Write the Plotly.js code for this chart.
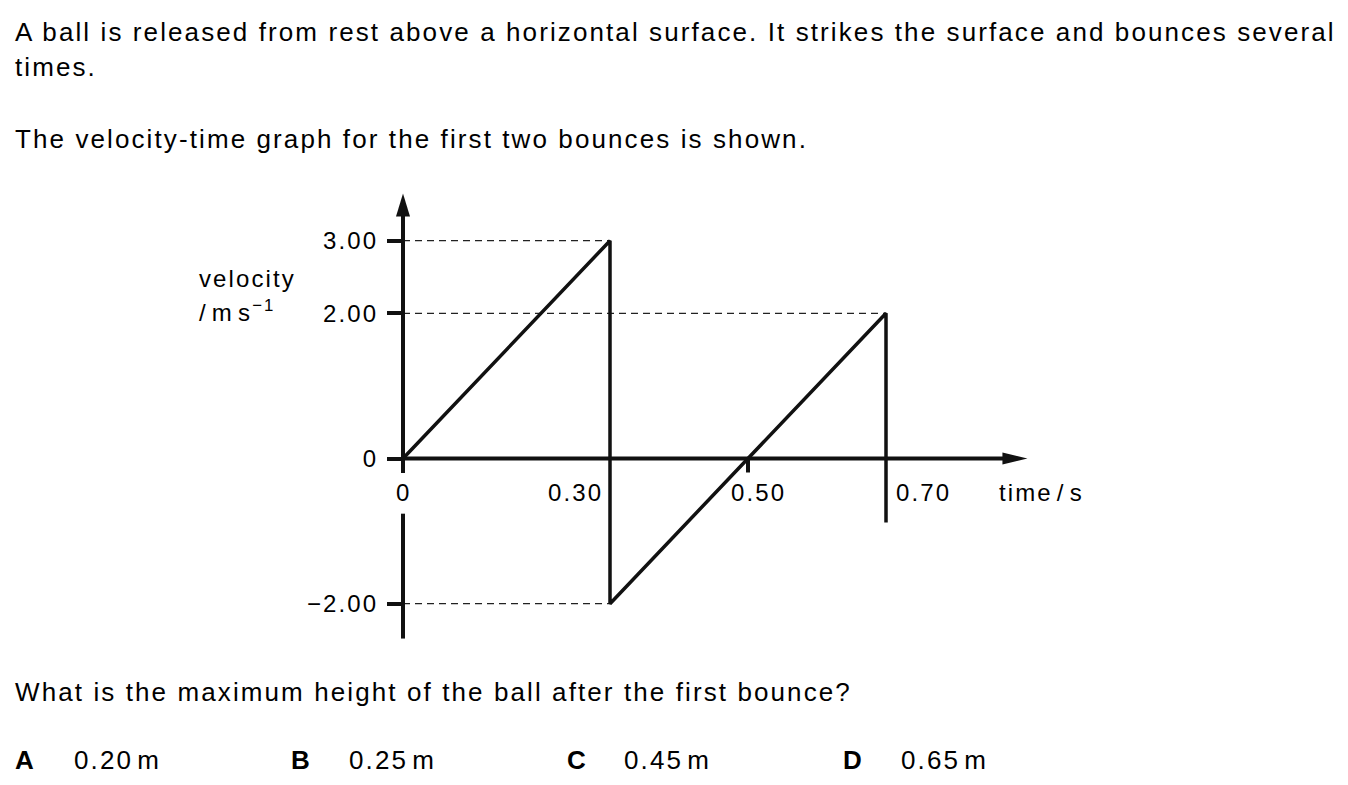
<!DOCTYPE html>
<html><head><meta charset="utf-8">
<script src="https://cdn.plot.ly/plotly-3.0.1.min.js"></script>
<style>
html,body{margin:0;padding:0;background:#fff;}
#chart{width:1348px;height:785px;}
text{letter-spacing:2.1px;}
</style></head><body><div id="chart"></div>
<script>
// ---- data ----
const timeS = [0, 0.30, 0.30, 0.70, 0.70];
const velocity = [0, 3.00, -2.00, 2.00, -0.88];
const yTickVals = [-2, 0, 2, 3];
const yTickText = ['\u22122.00', '0', '2.00', '3.00'];
const xLabelVals = [0, 0.30, 0.50, 0.70];
const xLabelText = ['0', '0.30', '0.50', '0.70'];
const guideLevels = [3.00, 2.00, -2.00];
const guideEnds = [0.30, 0.70, 0.30];
const markTimes = [0.50];
const xAxisEnd = 0.905;
const yAxisEnds = [-2.48, 3.65];
const yAxisGap = [-0.76, -0.20];
const introLines = ['A ball is released from rest above a horizontal surface. It strikes the surface and bounces several', 'times.', 'The velocity-time graph for the first two bounces is shown.'];
const questionText = 'What is the maximum height of the ball after the first bounce?';
const answerLetters = ['A', 'B', 'C', 'D'];
const answerValues = ['0.20', '0.25', '0.45', '0.65'];
const answerUnit = 'm';
const yLabelLines = ['velocity', '/\u200Am\u200As<sup>\u22121</sup>'];
const xTitle = 'time\u200A/\u200As';

// ---- layout geometry ----
const W = 1348, H = 785;
const X0PX = 403, XPU = 690, Y0PX = 458.5, YPU = 72.6;
const xRange = [-X0PX / XPU, (W - X0PX) / XPU];
const yRange = [-(H - Y0PX) / YPU, Y0PX / YPU];
const dx = p => p / XPU, dy = p => p / YPU;
const FONT = 'Liberation Sans, Arial, Helvetica, sans-serif';
const BOLD = 'Liberation Sans, Arial, sans-serif';

const shapes = [];
const lineStyle = {color: '#111', width: 4};
// y axis (with gap for the "0" label)
const yArrowBase = yAxisEnds[1] - dy(23);
shapes.push({type: 'line', xref: 'x', yref: 'y', x0: 0, x1: 0, y0: yAxisEnds[0], y1: yAxisGap[0], line: lineStyle});
shapes.push({type: 'line', xref: 'x', yref: 'y', x0: 0, x1: 0, y0: yAxisGap[1], y1: yArrowBase + dy(1), line: lineStyle});
shapes.push({type: 'path', xref: 'x', yref: 'y', fillcolor: '#111', line: {width: 0},
  path: `M ${-dx(7)},${yArrowBase} L 0,${yAxisEnds[1]} L ${dx(7)},${yArrowBase} Z`});
// x axis
const xArrowBase = xAxisEnd - dx(25);
shapes.push({type: 'line', xref: 'x', yref: 'y', x0: 0, x1: xArrowBase + dx(1), y0: 0, y1: 0, line: lineStyle});
shapes.push({type: 'path', xref: 'x', yref: 'y', fillcolor: '#111', line: {width: 0},
  path: `M ${xArrowBase},${dy(6)} L ${xAxisEnd},0 L ${xArrowBase},${-dy(6)} Z`});
// small tick marks on time axis
markTimes.forEach(t => shapes.push({type: 'line', xref: 'x', yref: 'y', x0: t, x1: t, y0: 0, y1: -dy(14), line: lineStyle}));
// dashed guide lines
guideLevels.forEach((v, i) => shapes.push({type: 'line', xref: 'x', yref: 'y', x0: 0, x1: guideEnds[i], y0: v, y1: v,
  line: {color: '#222', width: 1.3, dash: '7px,5px'}, layer: 'below'}));

const annotations = [];
const addText = (txt, px, py, opts) => annotations.push(Object.assign({
  text: txt, xref: 'paper', yref: 'paper', x: px / W, y: 1 - py / H, xanchor: 'left', yanchor: 'middle',
  showarrow: false, font: {family: FONT, size: 26, color: '#000'}}, opts || {}));

addText(introLines[0], 13, 32);
addText(introLines[1], 13, 67);
addText(introLines[2], 13, 139);
addText(questionText, 13, 692);
const letterX = [13, 289, 565, 841];
const valueX = [72, 347, 622, 899];
answerLetters.forEach((l, i) => {
  addText(l, letterX[i], 760, {font: {family: BOLD, size: 26, color: '#000', weight: 'bold'}});
  addText(answerValues[i] + '\u200A' + answerUnit, valueX[i], 760);
});
// axis labels
addText(yLabelLines[0], 197, 279, {font: {family: FONT, size: 24, color: '#000'}});
addText(yLabelLines[1], 197, 311, {font: {family: FONT, size: 24, color: '#000'}});
addText(xTitle, 997, 492, {font: {family: FONT, size: 24, color: '#000'}});
// time labels
const xLabAnchor = ['center', 'right', 'left', 'left'];
const xLabShift = [0, -5, -19, 8];
xLabelVals.forEach((v, i) => annotations.push({text: xLabelText[i], xref: 'x', yref: 'y', x: v, y: 0,
  xanchor: xLabAnchor[i], yanchor: 'middle', xshift: xLabShift[i], yshift: -34, showarrow: false,
  font: {family: FONT, size: 24, color: '#000'}}));

const traces = [{
  x: timeS, y: velocity, type: 'scatter', mode: 'lines',
  line: {color: '#111', width: 3.5}, hoverinfo: 'skip', cliponaxis: false
}];

const layout = {
  width: W, height: H, autosize: false,
  margin: {l: 0, r: 0, t: 0, b: 0, pad: 0},
  paper_bgcolor: '#fff', plot_bgcolor: '#fff', showlegend: false,
  xaxis: {range: xRange, showgrid: false, zeroline: false, showticklabels: false, ticks: '', showline: false, fixedrange: true},
  yaxis: {range: yRange, anchor: 'free', position: X0PX / W, side: 'left',
    showgrid: false, zeroline: false, showline: false,
    tickmode: 'array', tickvals: yTickVals, ticktext: yTickText,
    ticks: 'outside', ticklen: 16, tickwidth: 4, tickcolor: '#111', ticklabelstandoff: 4,
    tickfont: {family: FONT, size: 24, color: '#000'}, fixedrange: true},
  shapes: shapes, annotations: annotations
};
Plotly.newPlot('chart', traces, layout, {displayModeBar: false, staticPlot: true});
</script></body></html>
